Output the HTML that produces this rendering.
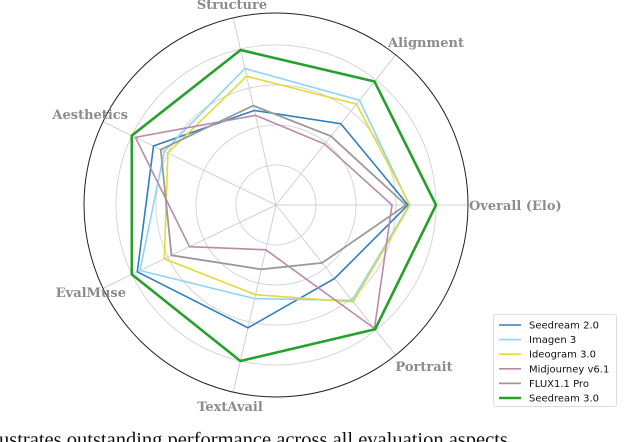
<!DOCTYPE html>
<html><head><meta charset="utf-8"><style>
html,body{margin:0;padding:0;background:#fff;width:640px;height:442px;overflow:hidden;position:relative}
svg{position:absolute;left:0;top:0}
.lbl{font-family:"DejaVu Serif","Liberation Serif",serif;font-weight:bold;font-size:13px;fill:#8c8c8c}
.leg{font-family:"DejaVu Sans","Liberation Sans",sans-serif;font-size:10px;fill:#111}
.cap{position:absolute;left:-1px;top:429px;font-family:"Liberation Serif",serif;font-size:20.5px;white-space:nowrap;color:#111}
</style></head><body>
<svg id="chart" width="640" height="442"></svg>
<div class="cap">ustrates outstanding performance across all evaluation aspects</div>
<script>
const axesLabels = ["Overall (Elo)","Alignment","Structure","Aesthetics","EvalMuse","TextAvail","Portrait"];
const seriesNames = ["Seedream 2.0","Imagen 3","Ideogram 3.0","Midjourney v6.1","FLUX1.1 Pro","Seedream 3.0"];
const seedream2 = [66,52,48.5,68,77,63,47];
const imagen3 = [66.7,67,70,62,75.5,48,61];
const ideogram3 = [67,64.5,66,60,62,46,62];
const midjourney = [58,39,46,78,48,23,79];
const flux = [65,44,51,64,58,33,37];
const seedream3 = [80,79,79.5,80,80,80,79.5];
const gridTicks = [20,40,60,80];
const outerMax = 96;

const colors = ["#2f7fc1","#8fd4f8","#e3da3c","#b98aaa","#9a9a9a","#24a12a"];
const widths = [1.6,1.6,1.6,1.6,1.8,2.6];
const allSeries = [seedream2,imagen3,ideogram3,midjourney,flux,seedream3];
const cx=276, cy=205, scale=2;
const NS="http://www.w3.org/2000/svg";
const svg=document.getElementById('chart');
function mk(t,a){const e=document.createElementNS(NS,t);for(const k in a)e.setAttribute(k,a[k]);return e;}
function ang(i){return i*2*Math.PI/axesLabels.length;}
function px(v,i){return cx+v*scale*Math.cos(ang(i));}
function py(v,i){return cy-v*scale*Math.sin(ang(i));}

gridTicks.forEach(t=>{
  const c=mk('circle',{cx:cx,cy:cy,r:t*scale,fill:'none',stroke:'#d6d6d6','stroke-width':1});
  
  
  svg.appendChild(c);
});
axesLabels.forEach((l,i)=>{
  const ln=mk('line',{x1:cx,y1:cy,x2:px(outerMax,i),y2:py(outerMax,i),stroke:'#d0d0d0','stroke-width':1});
  
  
  svg.appendChild(ln);
});
const oc=mk('circle',{cx:cx,cy:cy,r:outerMax*scale,fill:'none',stroke:'#222','stroke-width':1});


svg.appendChild(oc);

const lblPos=[[469,210,'start'],[426,47,'middle'],[232,9,'middle'],[128,119,'end'],[126,297,'end'],[230,411,'middle'],[424,371,'middle']];
axesLabels.forEach((l,i)=>{
  const t=mk('text',{x:lblPos[i][0],y:lblPos[i][1],'text-anchor':lblPos[i][2],class:'lbl'});
  t.textContent=l;
  
  
  svg.appendChild(t);
});

allSeries.forEach((s,k)=>{
  const pts=s.map((v,i)=>px(v,i).toFixed(1)+','+py(v,i).toFixed(1)).join(' ');
  const p=mk('polygon',{points:pts,fill:'none',stroke:colors[k],'stroke-width':widths[k],'stroke-linejoin':'miter'});
  
  
  svg.appendChild(p);
});

const lb=mk('rect',{x:493.5,y:314.5,width:123,height:92,rx:2,fill:'#fff',stroke:'#ddd','stroke-width':1});


svg.appendChild(lb);
seriesNames.forEach((n,k)=>{
  const y=325+k*14.6;
  const g=mk('g',{});
  
  
  g.appendChild(mk('line',{x1:499,y1:y,x2:521,y2:y,stroke:colors[k],'stroke-width':widths[k]}));
  const t=mk('text',{x:529,y:y+3.5,class:'leg'});
  t.textContent=n;
  g.appendChild(t);
  svg.appendChild(g);
});
</script>
</body></html>
